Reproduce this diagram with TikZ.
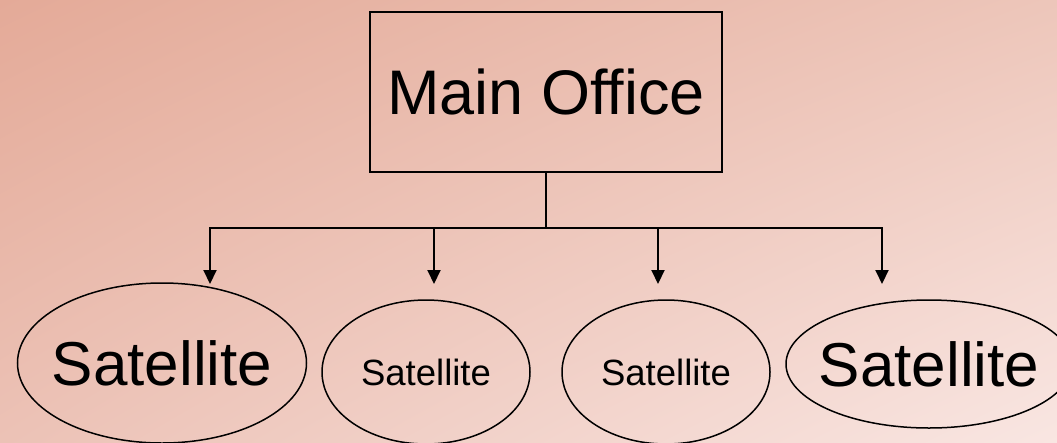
\documentclass[tikz,border=0pt]{standalone}
\usepackage{fontspec}
\setmainfont{Liberation Sans}
\usetikzlibrary{arrows.meta,shapes.geometric,shadings}
\definecolor{bgUL}{RGB}{228,170,152}
\definecolor{bgUR}{RGB}{237,198,186}
\definecolor{bgLL}{RGB}{236,194,182}
\definecolor{bgLR}{RGB}{249,230,226}
\tikzset{
  office/.style={draw, line width=2pt, minimum width=352pt, minimum height=160pt, inner sep=0pt, font=\fontsize{63}{70}\selectfont},
  sat/.style={draw, ellipse, line width=1.5pt, inner sep=0pt},
  bigtext/.style={font=\fontsize{62}{70}\selectfont},
  smalltext/.style={font=\fontsize{36.5}{42}\selectfont},
  link/.style={line width=2pt},
  arrowlink/.style={line width=2pt, -{Triangle[length=14pt,width=13pt]}}
}
\begin{document}
\begin{tikzpicture}[x=1pt,y=-1pt]
\useasboundingbox (0,0) rectangle (1057,442);
\clip (0,0) rectangle (1057,442);
\shade[upper left=bgUL, upper right=bgUR, lower left=bgLL, lower right=bgLR] (0,0) rectangle (1057,442);
\node[office] (main) at (546,92) {Main Office};
\node[sat, minimum width=289pt, minimum height=160pt, label={[bigtext]center:Satellite}] (s1) at (162,363) {};
\node[sat, minimum width=208pt, minimum height=144pt, label={[smalltext]center:Satellite}] (s2) at (426,372) {};
\node[sat, minimum width=208pt, minimum height=144pt, label={[smalltext]center:Satellite}] (s3) at (666,372) {};
\node[sat, minimum width=286pt, minimum height=128pt, label={[bigtext]center:Satellite}] (s4) at (929,364) {};
\coordinate (bm) at (546,228);
\coordinate (b1) at (210,228);
\coordinate (b2) at (434,228);
\coordinate (b3) at (658,228);
\coordinate (b4) at (882,228);
\coordinate (t1) at (210,284);
\coordinate (t2) at (434,284);
\coordinate (t3) at (658,284);
\coordinate (t4) at (882,284);
\draw[link] (main.south) -- (bm);
\draw[link, line cap=rect] (b1) -- (b4);
\draw[arrowlink] (b1) -- (t1);
\draw[arrowlink] (b2) -- (t2);
\draw[arrowlink] (b3) -- (t3);
\draw[arrowlink] (b4) -- (t4);
\end{tikzpicture}
\end{document}
